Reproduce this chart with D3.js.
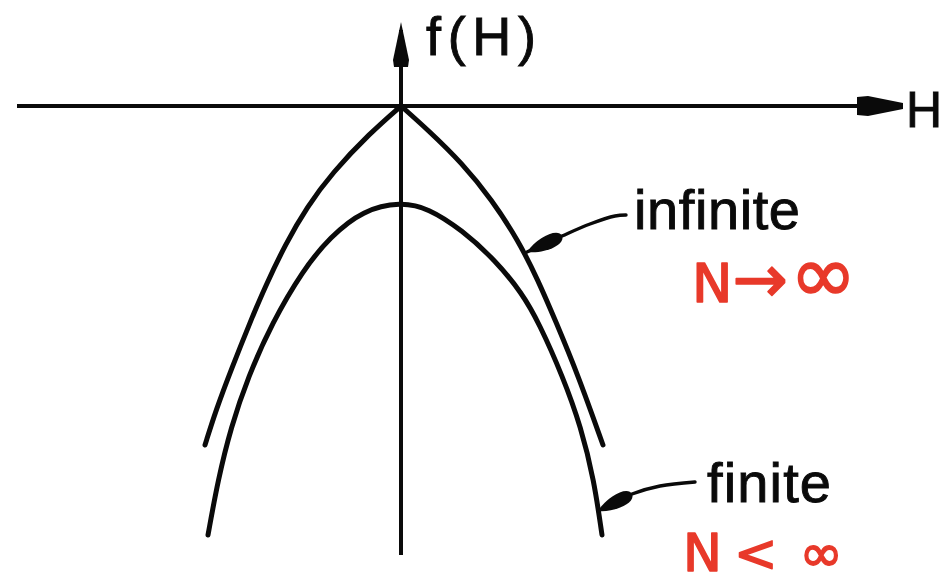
<!DOCTYPE html>
<html>
<head>
<meta charset="utf-8">
<script src="https://cdn.jsdelivr.net/npm/d3@7/dist/d3.min.js"></script>
<style>
  html, body { margin: 0; padding: 0; background: #fff; }
  svg { display: block; }
</style>
</head>
<body>
<svg id="chart" width="944" height="585"></svg>
<script>
// f(H) in the limit N -> infinity: two branches meeting in a cusp at H = 0
const infiniteLeftH  = [-1.96, -1.85, -1.70, -1.50, -1.36, -1.15, -0.94, -0.69, -0.31, 0];
const infiniteLeftF  = [-3.39, -3.04, -2.64, -2.14, -1.81, -1.37, -1.01, -0.67, -0.27, 0];
const infiniteRightH = [0, 0.27, 0.61, 0.91, 1.17, 1.37, 1.55, 1.77, 2.02];
const infiniteRightF = [0, -0.24, -0.57, -0.94, -1.34, -1.74, -2.16, -2.69, -3.39];

// f(H) for finite N: smooth maximum below the origin
const finiteH = [-1.93, -1.83, -1.70, -1.53, -1.29, -0.98, -0.71, -0.38, 0,
                 0.27, 0.61, 0.94, 1.21, 1.38, 1.62, 1.80, 1.93, 2.01];
const finiteF = [-4.29, -3.74, -3.21, -2.71, -2.17, -1.64, -1.31, -1.04, -0.96,
                 -1.02, -1.24, -1.54, -1.87, -2.17, -2.71, -3.21, -3.74, -4.29];

// Axis extents (data units)
const hExtent = [-3.84, 5.02];
const fExtent = [-4.49, 0.84];

// Text
const axisLabelX = "H";
const axisLabelY = "f(H)";
const labelInfinite = "infinite";
const labelFinite = "finite";
const noteInfinite = ["N", "→", "∞"];
const noteFinite = ["N", "<", "∞"];

const svg = d3.select("#chart");
const x = d3.scaleLinear().domain(hExtent).range([17, 903]);
const y = d3.scaleLinear().domain([fExtent[1], fExtent[0]]).range([22, 555]);

const ink = "#0a0a0a";
const red = "#e8392a";

svg.append("rect").attr("width", 944).attr("height", 585).attr("fill", "#fff");

// ---- axes ----
svg.append("line")
  .attr("x1", x(hExtent[0])).attr("x2", x(hExtent[1]) - 6)
  .attr("y1", y(0)).attr("y2", y(0))
  .attr("stroke", ink).attr("stroke-width", 4);
svg.append("line")
  .attr("x1", x(0)).attr("x2", x(0))
  .attr("y1", y(fExtent[0])).attr("y2", y(fExtent[1]) + 8)
  .attr("stroke", ink).attr("stroke-width", 4);

// arrowheads at the positive ends
const hx = x(hExtent[1]), hy = y(0);
svg.append("path")
  .attr("d", `M${hx},${hy - 3} L${hx - 35},${hy - 10} L${hx - 46},${hy - 9}
              L${hx - 46},${hy + 9} L${hx - 35},${hy + 10} L${hx},${hy + 3} Z`)
  .attr("fill", ink);
const vx = x(0), vy = y(fExtent[1]);
svg.append("path")
  .attr("d", `M${vx},${vy} L${vx + 8},${vy + 38} L${vx + 7},${vy + 45}
              L${vx - 7},${vy + 45} L${vx - 8},${vy + 38} Z`)
  .attr("fill", ink);

// ---- curves (B-spline through the read-off points) ----
const line = d3.line().x(d => x(d[0])).y(d => y(d[1])).curve(d3.curveBasis);
const zip = (a, b) => a.map((v, i) => [v, b[i]]);

const curves = svg.append("g")
  .attr("fill", "none").attr("stroke", ink)
  .attr("stroke-width", 5).attr("stroke-linecap", "round");
curves.append("path").attr("d", line(zip(infiniteLeftH, infiniteLeftF)));
curves.append("path").attr("d", line(zip(infiniteRightH, infiniteRightF)));
curves.append("path").attr("d", line(zip(finiteH, finiteF)));

// ---- pointer arrows to the curves ----
function pointer(pts) {
  const p = pts.map(d => [x(d[0]), y(d[1])]);
  svg.append("path")
    .attr("d", d3.line().curve(d3.curveCatmullRom)(p))
    .attr("fill", "none").attr("stroke", ink)
    .attr("stroke-width", 3.4).attr("stroke-linecap", "round");
  // tapered head from the tip to the second point
  const [tx, ty] = p[0], [bx, by] = p[1];
  const len = Math.hypot(bx - tx, by - ty);
  const ux = (bx - tx) / len, uy = (by - ty) / len;
  const nx = -uy, ny = ux, w = 8.5;
  const a = (t, s) => [tx + ux * len * t + nx * s, ty + uy * len * t + ny * s];
  const c1 = a(0.4, w * 1.1), c2 = a(1.0, w * 1.1), c3 = a(1.0, -w * 1.1), c4 = a(0.4, -w * 1.1);
  svg.append("path")
    .attr("d", `M${tx},${ty} C${c1} ${c2} ${bx},${by} C${c3} ${c4} ${tx},${ty} Z`)
    .attr("fill", ink);
}
pointer([[1.26, -1.46], [1.61, -1.30], [1.89, -1.18], [2.14, -1.10], [2.25, -1.09]]);
pointer([[1.97, -4.05], [2.31, -3.88], [2.59, -3.80], [2.94, -3.76]]);

// ---- labels ----
function label(txt, h, f, size, len) {
  const t = svg.append("text")
    .attr("x", x(h)).attr("y", y(f))
    .attr("font-family", "'Liberation Sans', Arial, sans-serif")
    .attr("font-size", size)
    .attr("fill", ink).attr("stroke", ink).attr("stroke-width", 0.9)
    .text(txt);
  if (len) t.attr("textLength", len).attr("lengthAdjust", "spacing");
}
label(axisLabelY, 0.25, 0.51, 54, 110);
label(axisLabelX, 5.05, -0.21, 50, null);
label(labelInfinite, 2.33, -1.23, 56, 166);
label(labelFinite, 3.06, -3.96, 56, 124);

// handwritten red notes
function note(parts, sizes, h, f, gaps) {
  const t = svg.append("text")
    .attr("x", x(h)).attr("y", y(f))
    .attr("font-family", "'DejaVu Sans', sans-serif")
    .attr("fill", red).attr("stroke", red)
    .attr("stroke-width", 1.6).attr("stroke-linejoin", "round");
  parts.forEach((s, i) => {
    t.append("tspan").attr("font-size", sizes[i]).attr("dx", gaps[i]).text(s);
  });
}
note(noteInfinite, [54, 66, 80], 2.91, -1.96, [0, 0, 2]);
note(noteFinite, [52, 52, 52], 2.82, -4.65, [0, 12, 22]);
</script>
</body>
</html>
